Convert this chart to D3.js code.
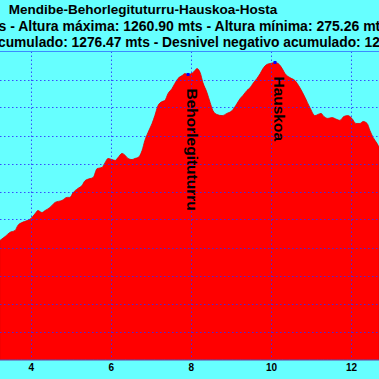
<!DOCTYPE html>
<html><head><meta charset="utf-8">
<script src="https://cdn.jsdelivr.net/npm/d3@7"></script>
<style>html,body{margin:0;padding:0;background:#66ffff;overflow:hidden}</style>
</head><body><svg id="c" width="379" height="379"></svg>
<script>
const titleLines = [
  "Mendibe-Behorlegituturru-Hauskoa-Hosta",
  "s - Altura máxima: 1260.90 mts - Altura mínima: 275.26 mts",
  "cumulado: 1276.47 mts - Desnivel negativo acumulado: 12"
];
const distanceKm = [3.23,3.36,3.48,3.61,3.68,3.78,3.91,4.01,4.11,4.18,4.28,4.36,4.48,4.61,4.78,4.91,4.98,5.06,5.18,5.28,5.36,5.48,5.56,5.66,5.73,5.78,5.86,5.93,6.03,6.11,6.18,6.28,6.36,6.43,6.53,6.60,6.68,6.78,6.85,6.93,7.03,7.10,7.18,7.28,7.35,7.43,7.53,7.60,7.68,7.78,7.85,7.93,8.03,8.10,8.15,8.23,8.30,8.40,8.48,8.55,8.65,8.78,8.90,9.03,9.15,9.23,9.30,9.40,9.48,9.55,9.65,9.73,9.80,9.90,9.98,10.10,10.18,10.28,10.35,10.47,10.60,10.72,10.85,10.97,11.10,11.17,11.25,11.32,11.42,11.52,11.65,11.72,11.82,11.92,12.02,12.12,12.22,12.30,12.40,12.47,12.55,12.65,12.70];
const elevationM = [625,639,654,661,679,689,696,704,721,732,725,732,743,761,768,779,779,796,811,821,839,846,850,882,884,886,904,918,914,911,921,936,929,918,914,918,921,946,982,1011,1043,1071,1107,1121,1125,1150,1168,1186,1204,1214,1221,1218,1222,1232,1239,1225,1189,1154,1118,1089,1075,1071,1079,1089,1114,1132,1143,1161,1171,1186,1204,1221,1239,1254,1257,1260.9,1257,1239,1221,1207,1196,1171,1136,1100,1071,1075,1079,1068,1061,1064,1057,1054,1068,1071,1061,1043,1043,1050,1043,1018,993,971,957];
const xTicks = [4,6,8,10,12];
const yGrid = [200,300,400,500,600,700,800,900,1000,1100,1200,1300];
const peakNames = ["Behorlegituturru","Hauskoa"];
const peakKm = [7.93,10.10];
const peakElev = [1218,1260.9];

const svg = d3.select("#c");
const W = 379, plotTop = 51.5, plotBottom = 359.5;
const x = d3.scaleLinear().domain([4,12]).range([30.7,351.1]);
const y = d3.scaleLinear().domain([200,1300]).range([plotBottom,plotTop]);

svg.append("rect").attr("width",W).attr("height",379).attr("fill","#66ffff");

const data = distanceKm.map((d,i)=>({k:d,e:elevationM[i]}));
svg.append("path").datum(data)
  .attr("fill","#ff0000").attr("stroke","#e00000").attr("stroke-width",0.8)
  .attr("d", d3.area().x(d=>x(d.k)).y0(y(200)).y1(d=>y(d.e)).curve(d3.curveMonotoneX));

// grid
const g = svg.append("g").attr("stroke","#2f2fff").attr("stroke-width",1).attr("stroke-dasharray","1.5,2.5").attr("opacity",0.85);
g.selectAll("line.h").data(yGrid.filter(v=>v>200&&v<1300)).join("line")
  .attr("x1",0).attr("x2",W).attr("y1",d=>Math.round(y(d))+0.5).attr("y2",d=>Math.round(y(d))+0.5);
g.selectAll("line.v").data(xTicks).join("line")
  .attr("x1",d=>Math.round(x(d))+0.5).attr("x2",d=>Math.round(x(d))+0.5).attr("y1",plotTop).attr("y2",plotBottom);

// frame
svg.append("line").attr("x1",0).attr("x2",W).attr("y1",plotTop).attr("y2",plotTop).attr("stroke","#3a8cff").attr("stroke-width",1);
svg.append("line").attr("x1",0).attr("x2",W).attr("y1",plotBottom+0.5).attr("y2",plotBottom+0.5).attr("stroke","#6a3aa0").attr("stroke-width",1);

// x axis labels
const ax = svg.append("g").attr("transform",`translate(0,${plotBottom+0.5})`)
  .call(d3.axisBottom(x).tickValues(xTicks).tickSize(0).tickPadding(4).tickFormat(d3.format("d")));
ax.select(".domain").remove();
ax.selectAll("text").attr("font-family","Liberation Sans, Arial, sans-serif").attr("font-weight","bold").attr("font-size","10px").attr("fill","#000");

// titles
const tf = "Liberation Sans, Arial, sans-serif";
svg.append("text").attr("x",143).attr("y",14).attr("text-anchor","middle").attr("font-family",tf).attr("font-weight","bold").attr("font-size","13.5px").text(titleLines[0]);
svg.append("text").attr("x",-1.5).attr("y",30.5).attr("font-family",tf).attr("font-weight","bold").attr("font-size","14px").text(titleLines[1]);
svg.append("text").attr("x",-2).attr("y",47).attr("font-family",tf).attr("font-weight","bold").attr("font-size","13.8px").text(titleLines[2]);

// peaks
peakNames.forEach((n,i)=>{
  const px = x(peakKm[i]), py = y(peakElev[i]);
  svg.append("rect").attr("x",px-1.5).attr("y",py-1.5).attr("width",3).attr("height",3).attr("fill","#0000ff");
  svg.append("text").attr("transform",`translate(${px-1},${py+14}) rotate(90)`)
    .attr("font-family",tf).attr("font-weight","bold").attr("font-size","15.5px").attr("fill","#000").text(n);
});
</script></body></html>
